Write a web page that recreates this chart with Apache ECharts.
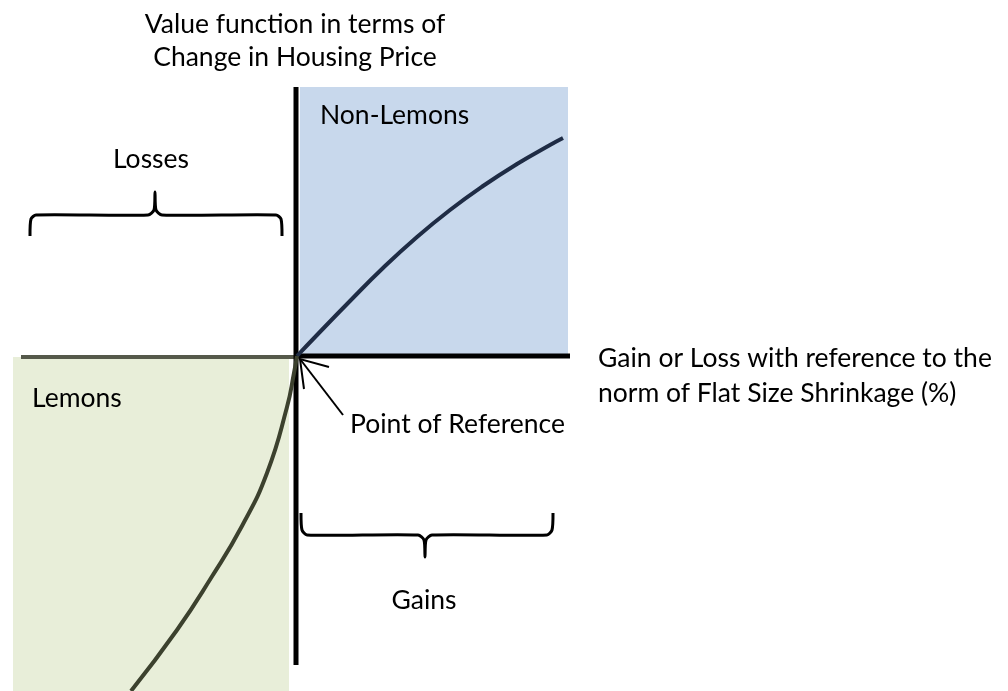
<!DOCTYPE html>
<html lang="en" style="height: 100%">
    <head>
        <meta charset="utf-8">
        <title>Value function</title>
    </head>
    <body style="height: 100%; margin: 0; background: #ffffff">
        <div id="container" style="width: 1008px; height: 691px"></div>
        <script src="https://cdn.jsdelivr.net/npm/echarts@6/dist/echarts.min.js"></script>
        <script>
            // value function, gains side (x = gain, y = value)
            let gainsX = [0, 20, 53, 86, 120, 153, 186, 220, 253, 266];
            let gainsY = [0, 21, 55, 88, 119, 146, 170, 192, 211, 218];

            // value function, losses side
            let lossesX = [0, -3, -10, -30, -55, -86, -120, -166];
            let lossesY = [0, -17, -51, -117, -170, -222, -274, -335];

            // axis extents
            let xRange = [-297, 273];
            let yRange = [-335, 269];
            let valueAxisEnds = [269, -309];
            let gainAxisEnds = [0, 273];
            let lossAxisEnds = [-276, 0];

            // shaded quadrants [x1, y1, x2, y2]
            let nonLemonsBox = [3, 269, 271, 2];
            let lemonsBox = [-284, -1, -8, -335];

            function pairs(xs, ys) {
                let out = [];
                for (let i = 0; i < xs.length; i++) {
                    out.push([xs[i], ys[i]]);
                }
                return out;
            }

            function drawChart() {
                let dom = document.getElementById("container");
                let chart = echarts.init(dom, null, { renderer: "canvas" });
                let font = "Lato, sans-serif";
                let txt = function (text, x, y, align) {
                    return {
                        type: "text",
                        x: x,
                        y: y,
                        z: 100,
                        style: {
                            text: text,
                            fill: "#000000",
                            font: "26.5px " + font,
                            align: align,
                            verticalAlign: "middle"
                        }
                    };
                };
                let brace = function (points) {
                    return {
                        type: "polyline",
                        z: 100,
                        shape: { points: points, smooth: 0.25 },
                        style: { stroke: "#000000", lineWidth: 3, fill: null }
                    };
                };

                let option = {
                    animation: false,
                    grid: { left: 0, top: 87, width: 570, bottom: 0 },
                    xAxis: { type: "value", min: xRange[0], max: xRange[1], show: false },
                    yAxis: { type: "value", min: yRange[0], max: yRange[1], show: false },
                    series: [
                        {
                            name: "regions",
                            type: "line",
                            data: [],
                            markArea: {
                                silent: true,
                                data: [
                                    [
                                        { coord: [nonLemonsBox[0], nonLemonsBox[1]], itemStyle: { color: "#c8d8ec" } },
                                        { coord: [nonLemonsBox[2], nonLemonsBox[3]] }
                                    ],
                                    [
                                        { coord: [lemonsBox[0], lemonsBox[1]], itemStyle: { color: "#e8eed9" } },
                                        { coord: [lemonsBox[2], lemonsBox[3]] }
                                    ]
                                ]
                            }
                        },
                        {
                            name: "loss axis",
                            type: "line",
                            symbol: "none",
                            data: [[lossAxisEnds[0], -1], [lossAxisEnds[1], -1]],
                            lineStyle: { color: "#55594a", width: 4 }
                        },
                        {
                            name: "gain axis",
                            type: "line",
                            symbol: "none",
                            data: [[gainAxisEnds[0], 0], [gainAxisEnds[1], 0]],
                            lineStyle: { color: "#000000", width: 5 }
                        },
                        {
                            name: "value axis",
                            type: "line",
                            symbol: "none",
                            data: [[-1, valueAxisEnds[0]], [-1, valueAxisEnds[1]]],
                            lineStyle: { color: "#000000", width: 5 }
                        },
                        {
                            name: "Non-Lemons",
                            type: "line",
                            symbol: "none",
                            smooth: true,
                            data: pairs(gainsX, gainsY),
                            lineStyle: { color: "#1f2c45", width: 4 }
                        },
                        {
                            name: "Lemons",
                            type: "line",
                            symbol: "none",
                            smooth: true,
                            data: pairs(lossesX, lossesY),
                            lineStyle: { color: "#3c412e", width: 4 }
                        }
                    ],
                    graphic: [
                        txt("Value function in terms of", 295, 24, "center"),
                        txt("Change in Housing Price", 295, 57, "center"),
                        txt("Non-Lemons", 320, 115, "left"),
                        txt("Losses", 151, 159, "center"),
                        txt("Lemons", 32, 398, "left"),
                        txt("Point of Reference", 350, 424, "left"),
                        txt("Gain or Loss with reference to the", 598, 358, "left"),
                        txt("norm of Flat Size Shrinkage (%)", 598, 393, "left"),
                        txt("Gains", 424, 600, "center"),
                        brace([[30, 236], [31, 219], [36, 215], [148, 215], [154, 210], [155, 192], [156, 210], [162, 215], [276, 215], [281, 219], [282, 236]]),
                        brace([[301, 513], [302, 530], [307, 535], [418, 535], [424, 540], [425, 557], [426, 540], [432, 535], [547, 535], [552, 530], [553, 513]]),
                        {
                            type: "polyline",
                            z: 100,
                            shape: { points: [[343, 415], [300, 359]] },
                            style: { stroke: "#000000", lineWidth: 2, fill: null }
                        },
                        {
                            type: "polyline",
                            z: 100,
                            shape: { points: [[329, 367], [300, 359], [304, 389]] },
                            style: { stroke: "#000000", lineWidth: 2, fill: null }
                        }
                    ]
                };

                chart.setOption(option);
                window.addEventListener("resize", chart.resize);
            }

            drawChart();
        </script>
    </body>
</html>
